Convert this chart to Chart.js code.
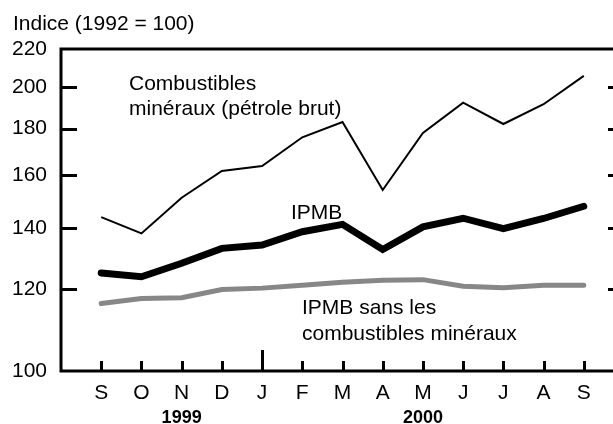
<!DOCTYPE html>
<html>
<head>
<meta charset="utf-8">
<script src="https://cdn.jsdelivr.net/npm/chart.js@4.4.1/dist/chart.umd.min.js"></script>
<style>
  html, body { margin: 0; padding: 0; background: #fff; overflow: hidden; }
  #wrap { width: 613px; height: 424px; overflow: hidden; }
</style>
</head>
<body>
<div id="wrap"><canvas id="chart" width="625" height="424"></canvas></div>
<script>
// months Sept 1999 - Sept 2000
const months = ['S', 'O', 'N', 'D', 'J', 'F', 'M', 'A', 'M', 'J', 'J', 'A', 'S'];
const years = [{ label: '1999', at: 2 }, { label: '2000', at: 8 }];

const combustibles = [144.0, 138.2, 151.2, 161.8, 163.8, 176.1, 183.0, 154.2, 178.0, 192.2, 182.1, 191.4, 205.6];
const ipmb = [125.1, 123.9, 128.2, 133.1, 134.2, 138.8, 141.4, 132.7, 140.5, 143.6, 139.9, 143.5, 148.0];
const ipmbSans = [115.8, 117.3, 117.5, 120.0, 120.4, 121.3, 122.2, 122.8, 123.0, 121.0, 120.5, 121.3, 121.3];

const yTicks = [120, 140, 160, 180, 200];
const yMin = 97.7;   // axis broken below 100, labelled "100"
const yMax = 220;

const FONT = '"Liberation Sans", Arial, sans-serif';

function toPoints(arr) {
    return arr.map((v, i) => ({ x: i, y: v }));
}

const decor = {
    id: 'decor',
    afterDraw(chart) {
        const { ctx, chartArea: a, scales: { x, y } } = chart;
        ctx.save();
        ctx.strokeStyle = '#000';
        ctx.lineWidth = 3;
        ctx.lineCap = 'butt';
        ctx.strokeRect(a.left, a.top, a.right - a.left, a.bottom - a.top);

        ctx.beginPath();
        yTicks.forEach(v => {
            const py = Math.round(y.getPixelForValue(v)) + 0.5;
            ctx.moveTo(a.left, py); ctx.lineTo(a.left + 16, py);
            ctx.moveTo(a.right - 16, py); ctx.lineTo(a.right, py);
        });
        months.forEach((m, i) => {
            const px = Math.round(x.getPixelForValue(i)) + 0.5;
            const len = i === 4 ? 21 : 10;
            ctx.moveTo(px, a.bottom); ctx.lineTo(px, a.bottom - len);
        });
        ctx.stroke();

        ctx.fillStyle = '#000';
        ctx.textAlign = 'left';
        ctx.textBaseline = 'alphabetic';
        ctx.font = '21px ' + FONT;
        ctx.fillText('Indice (1992 = 100)', 13, 30);
        ctx.fillText('Combustibles', 129, 90);
        ctx.fillText('minéraux (pétrole brut)', 129, 115);
        ctx.fillText('IPMB', 291, 219);
        ctx.fillText('IPMB sans les', 302, 314);
        ctx.fillText('combustibles minéraux', 302, 340);

        ctx.font = 'bold 18px ' + FONT;
        ctx.textAlign = 'center';
        years.forEach(yr => {
            ctx.fillText(yr.label, x.getPixelForValue(yr.at), 423);
        });
        ctx.restore();
    }
};

new Chart(document.getElementById('chart'), {
    type: 'line',
    data: {
        datasets: [{
            label: 'Combustibles minéraux (pétrole brut)',
            data: toPoints(combustibles),
            borderColor: '#000',
            borderWidth: 2,
            pointRadius: 0
        }, {
            label: 'IPMB',
            data: toPoints(ipmb),
            borderColor: '#000',
            borderWidth: 7,
            borderCapStyle: 'round',
            pointRadius: 0
        }, {
            label: 'IPMB sans les combustibles minéraux',
            data: toPoints(ipmbSans),
            borderColor: '#878787',
            borderWidth: 5,
            borderCapStyle: 'round',
            pointRadius: 0
        }]
    },
    options: {
        responsive: false,
        animation: false,
        devicePixelRatio: 1,
        layout: { padding: { top: 49, right: 1, left: 0, bottom: 0 } },
        plugins: { legend: { display: false }, tooltip: { enabled: false } },
        scales: {
            x: {
                type: 'linear',
                min: -1,
                max: 13,
                afterBuildTicks: s => { s.ticks = months.map((m, i) => ({ value: i })); },
                afterFit: s => { s.height = 53; },
                ticks: {
                    callback: v => months[v],
                    autoSkip: false,
                    maxRotation: 0,
                    padding: 10,
                    color: '#000',
                    font: { family: FONT, size: 21 }
                },
                grid: { display: false, drawTicks: false },
                border: { display: false }
            },
            y: {
                type: 'logarithmic',
                min: yMin,
                max: yMax,
                afterBuildTicks: s => { s.ticks = [yMin, ...yTicks, yMax].map(v => ({ value: v })); },
                afterFit: s => { s.width = 61; },
                ticks: {
                    callback: v => v === yMin ? '100' : String(v),
                    padding: 14,
                    color: '#000',
                    font: { family: FONT, size: 21 }
                },
                grid: { display: false, drawTicks: false },
                border: { display: false }
            }
        }
    },
    plugins: [decor]
});
</script>
</body>
</html>
